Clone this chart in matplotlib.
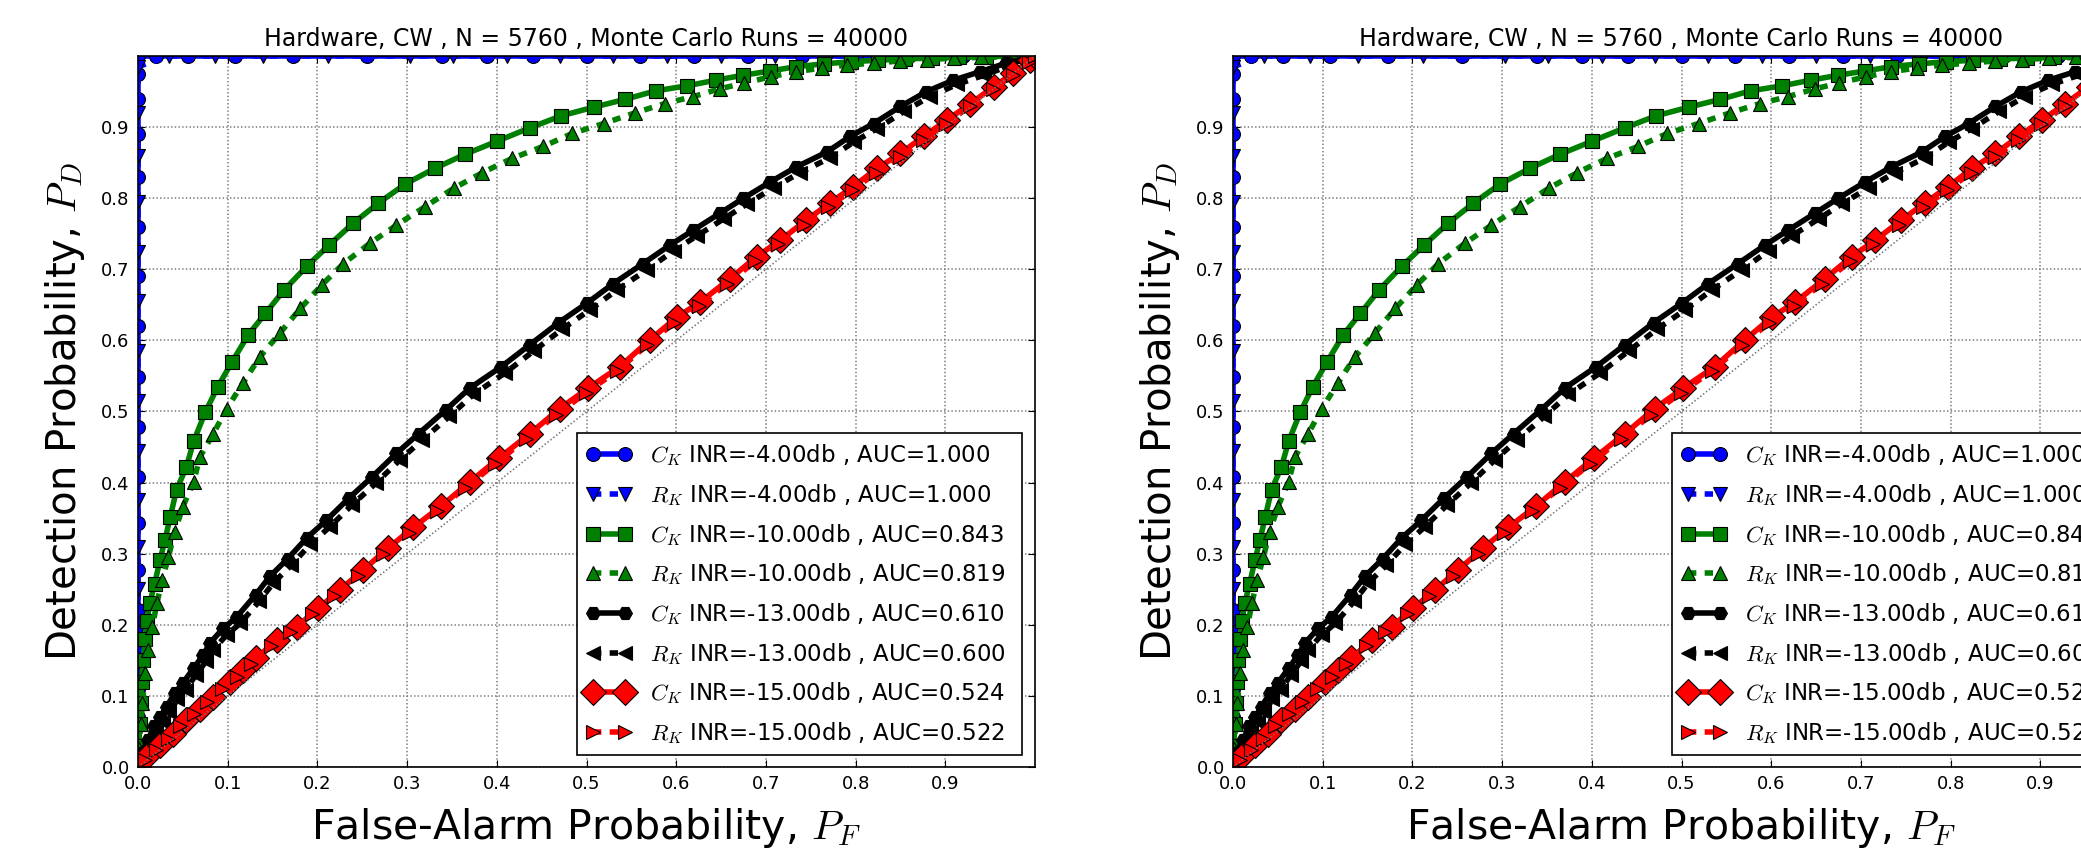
import matplotlib
matplotlib.use("Agg")
import matplotlib.pyplot as plt

plt.rcParams['mathtext.fontset'] = 'cm'
plt.rcParams['font.family'] = ['DejaVu Sans']
plt.rcParams['lines.scale_dashes'] = False

# ---------------- data ----------------
title_text = "Hardware, CW , N = 5760 , Monte Carlo Runs = 40000"
xlabel_text = r"False-Alarm Probability, $P_F$"
ylabel_text = r"Detection Probability, $P_D$"
tick_values = [0.0, 0.1, 0.2, 0.3, 0.4, 0.5, 0.6, 0.7, 0.8, 0.9]

labels = [r"$C_K$ INR=-4.00db , AUC=1.000",
          r"$R_K$ INR=-4.00db , AUC=1.000",
          r"$C_K$ INR=-10.00db , AUC=0.843",
          r"$R_K$ INR=-10.00db , AUC=0.819",
          r"$C_K$ INR=-13.00db , AUC=0.610",
          r"$R_K$ INR=-13.00db , AUC=0.600",
          r"$C_K$ INR=-15.00db , AUC=0.524",
          r"$R_K$ INR=-15.00db , AUC=0.522"]

ck4_pf = [0, 0, 0, 0, 0, 0, 0, 0, 0, 0, 0, 0, 0, 0, 0, 0, 0, 0, 0,
          0.02, 0.056, 0.108, 0.173, 0.255, 0.339, 0.389, 0.44, 0.50, 0.56,
          0.62, 0.68, 0.74, 0.80, 0.86, 0.92, 0.97, 1.0]
ck4_pd = [0.0, 0.03, 0.07, 0.11, 0.16, 0.221, 0.277, 0.343, 0.408, 0.478,
          0.548, 0.62, 0.69, 0.76, 0.83, 0.89, 0.94, 0.975, 1.0,
          1.0, 1.0, 1.0, 1.0, 1.0, 1.0, 1.0, 1.0, 1.0, 1.0,
          1.0, 1.0, 1.0, 1.0, 1.0, 1.0, 1.0, 1.0]

rk4_pf = [0, 0, 0, 0, 0, 0, 0, 0, 0, 0, 0, 0, 0, 0, 0, 0, 0, 0,
          0.035, 0.086, 0.139, 0.212, 0.303, 0.351, 0.411, 0.47, 0.53, 0.59,
          0.65, 0.71, 0.77, 0.83, 0.89, 0.95, 1.0]
rk4_pd = [0.0, 0.02, 0.05, 0.09, 0.13, 0.19, 0.25, 0.31, 0.375, 0.445,
          0.515, 0.585, 0.655, 0.725, 0.795, 0.86, 0.92, 0.985,
          1.0, 1.0, 1.0, 1.0, 1.0, 1.0, 1.0, 1.0, 1.0, 1.0,
          1.0, 1.0, 1.0, 1.0, 1.0, 1.0, 1.0]

ck10_pf = [0.000, 0.001, 0.002, 0.003, 0.004, 0.006, 0.008, 0.010, 0.013,
           0.0186, 0.0245, 0.030, 0.036, 0.043, 0.054, 0.062, 0.075, 0.089,
           0.105, 0.123, 0.142, 0.163, 0.188, 0.213, 0.240, 0.268, 0.298,
           0.331, 0.365, 0.400, 0.437, 0.472, 0.508, 0.543, 0.577, 0.612,
           0.644, 0.675, 0.705, 0.734, 0.765, 0.795, 0.825, 0.855, 0.885,
           0.915, 0.945, 0.975, 1.000]
ck10_pd = [0.000, 0.030, 0.060, 0.090, 0.120, 0.150, 0.180, 0.205, 0.230,
           0.258, 0.291, 0.319, 0.352, 0.390, 0.422, 0.458, 0.499, 0.535,
           0.570, 0.608, 0.638, 0.671, 0.704, 0.734, 0.765, 0.793, 0.820,
           0.842, 0.862, 0.880, 0.899, 0.916, 0.928, 0.939, 0.951, 0.958,
           0.966, 0.973, 0.979, 0.985, 0.989, 0.992, 0.994, 0.996, 0.997,
           0.998, 0.999, 1.000, 1.000]

rk10_pf = [0.000, 0.001, 0.003, 0.005, 0.008, 0.011, 0.016, 0.021, 0.027,
           0.034, 0.041, 0.050, 0.062, 0.069, 0.084, 0.099, 0.117, 0.136,
           0.158, 0.181, 0.205, 0.229, 0.259, 0.288, 0.320, 0.352, 0.384,
           0.417, 0.452, 0.484, 0.519, 0.554, 0.587, 0.619, 0.649, 0.676,
           0.706, 0.734, 0.762, 0.790, 0.820, 0.850, 0.880, 0.910, 0.940,
           0.970, 1.000]
rk10_pd = [0.000, 0.025, 0.060, 0.090, 0.132, 0.165, 0.197, 0.230, 0.263,
           0.296, 0.331, 0.366, 0.401, 0.436, 0.469, 0.504, 0.540, 0.577,
           0.610, 0.645, 0.678, 0.708, 0.737, 0.762, 0.788, 0.814, 0.836,
           0.856, 0.873, 0.891, 0.905, 0.920, 0.933, 0.943, 0.954, 0.962,
           0.971, 0.978, 0.983, 0.987, 0.990, 0.993, 0.995, 0.997, 0.998,
           0.999, 1.000]

ck13_pf = [0.000, 0.004, 0.011, 0.018, 0.025, 0.032, 0.041, 0.050, 0.062,
           0.073, 0.080, 0.095, 0.110, 0.131, 0.147, 0.167, 0.188, 0.210,
           0.235, 0.261, 0.288, 0.313, 0.343, 0.370, 0.405, 0.437, 0.469,
           0.500, 0.530, 0.563, 0.593, 0.619, 0.649, 0.675, 0.705, 0.734,
           0.768, 0.794, 0.820, 0.850, 0.879, 0.909, 0.939, 0.968, 1.000]
ck13_pd = [0.000, 0.020, 0.038, 0.057, 0.071, 0.085, 0.104, 0.118, 0.139,
           0.158, 0.174, 0.195, 0.211, 0.242, 0.268, 0.293, 0.322, 0.347,
           0.378, 0.408, 0.441, 0.469, 0.502, 0.533, 0.563, 0.594, 0.625,
           0.652, 0.680, 0.708, 0.734, 0.755, 0.779, 0.800, 0.823, 0.844,
           0.865, 0.887, 0.905, 0.929, 0.950, 0.966, 0.978, 0.990, 1.000]

rk13_pf = [0.000, 0.006, 0.013, 0.020, 0.028, 0.035, 0.044, 0.053, 0.065,
           0.076, 0.084, 0.099, 0.114, 0.135, 0.151, 0.171, 0.192, 0.214,
           0.239, 0.265, 0.292, 0.317, 0.347, 0.374, 0.409, 0.441, 0.473,
           0.504, 0.534, 0.567, 0.597, 0.623, 0.653, 0.679, 0.709, 0.738,
           0.772, 0.798, 0.824, 0.854, 0.883, 0.913, 0.943, 0.971, 1.000]
rk13_pd = [0.000, 0.014, 0.031, 0.049, 0.063, 0.077, 0.095, 0.109, 0.130,
           0.149, 0.165, 0.186, 0.202, 0.233, 0.259, 0.284, 0.313, 0.338,
           0.369, 0.399, 0.432, 0.460, 0.493, 0.524, 0.554, 0.585, 0.616,
           0.643, 0.671, 0.699, 0.726, 0.747, 0.771, 0.792, 0.815, 0.836,
           0.857, 0.879, 0.898, 0.922, 0.943, 0.960, 0.973, 0.986, 1.000]

ck15_pf = [0.000, 0.010, 0.025, 0.039, 0.054, 0.069, 0.084, 0.103, 0.117,
           0.132, 0.155, 0.177, 0.201, 0.225, 0.251, 0.279, 0.307, 0.338,
           0.370, 0.402, 0.437, 0.470, 0.502, 0.537, 0.571, 0.601, 0.627,
           0.660, 0.690, 0.716, 0.745, 0.771, 0.797, 0.824, 0.850, 0.876,
           0.902, 0.928, 0.954, 0.976, 0.994, 1.000]
ck15_pd = [0.000, 0.015, 0.031, 0.047, 0.066, 0.082, 0.099, 0.120, 0.136,
           0.153, 0.179, 0.197, 0.223, 0.249, 0.277, 0.308, 0.337, 0.367,
           0.401, 0.434, 0.469, 0.504, 0.533, 0.563, 0.601, 0.633, 0.654,
           0.687, 0.718, 0.741, 0.769, 0.793, 0.816, 0.842, 0.863, 0.887,
           0.910, 0.933, 0.957, 0.976, 0.994, 1.000]

rk15_pf = [0.000, 0.008, 0.020, 0.033, 0.047, 0.062, 0.077, 0.094, 0.110,
           0.126, 0.148, 0.170, 0.194, 0.219, 0.245, 0.273, 0.302, 0.333,
           0.365, 0.398, 0.432, 0.466, 0.499, 0.534, 0.567, 0.598, 0.625,
           0.657, 0.688, 0.714, 0.743, 0.769, 0.796, 0.823, 0.849, 0.875,
           0.901, 0.927, 0.953, 0.975, 0.993, 1.000]
rk15_pd = [0.000, 0.010, 0.024, 0.040, 0.057, 0.074, 0.091, 0.110, 0.127,
           0.145, 0.170, 0.190, 0.215, 0.241, 0.269, 0.299, 0.329, 0.360,
           0.393, 0.426, 0.461, 0.495, 0.526, 0.557, 0.593, 0.625, 0.648,
           0.680, 0.711, 0.735, 0.763, 0.787, 0.811, 0.836, 0.858, 0.882,
           0.905, 0.929, 0.953, 0.973, 0.992, 1.000]

chance = [0.0, 1.0]

series = [
    (ck4_pf, ck4_pd, 'b', '-', 'o'),
    (rk4_pf, rk4_pd, 'b', '--', 'v'),
    (ck10_pf, ck10_pd, 'g', '-', 's'),
    (rk10_pf, rk10_pd, 'g', '--', '^'),
    (ck13_pf, ck13_pd, 'k', '-', 'H'),
    (rk13_pf, rk13_pd, 'k', '--', '<'),
    (ck15_pf, ck15_pd, 'r', '-', 'D'),
    (rk15_pf, rk15_pd, 'r', '--', '>'),
]
colors = {'b': '#0000ff', 'g': '#008000', 'k': '#000000', 'r': '#ff0000'}

W, H = 2081, 855
fig = plt.figure(figsize=(W / 100, H / 100), dpi=100)

ax_w = 897 / W
ax_h = 711 / H
ax_b = (H - 767) / H
lefts = [138 / W, 1233 / W]

for left in lefts:
    ax = fig.add_axes([left, ax_b, ax_w, ax_h])
    for (xs, ys, c, ls, m), lab in zip(series, labels):
        kw = dict(color=colors[c], marker=m,
                  markeredgecolor='k', markeredgewidth=0.8, linewidth=4,
                  label=lab)
        if ls == '--':
            kw['dashes'] = (6, 6)
        else:
            kw['linestyle'] = '-'
        kw['markersize'] = 13 if m == 'D' else 10
        ax.plot(xs, ys, **kw)
    ax.plot(chance, chance, linestyle=':', color='0.45', linewidth=1.2)
    ax.set_xlim(0, 1)
    ax.set_ylim(0, 1)
    ax.set_xticks(tick_values)
    ax.set_yticks(tick_values)
    ax.set_xticklabels([f"{v:.1f}" for v in tick_values])
    ax.set_yticklabels([f"{v:.1f}" for v in tick_values])
    ax.tick_params(direction='in', top=True, right=True, length=5,
                   labelsize=13, pad=6)
    ax.grid(True, linestyle=':', color='0.5', linewidth=1.2)
    for sp in ax.spines.values():
        sp.set_linewidth(1.2)
    ax.set_title(title_text, fontsize=17, pad=7)
    ax.set_xlabel(xlabel_text, fontsize=29.5, labelpad=9)
    ax.set_ylabel(ylabel_text, fontsize=29, labelpad=10)
    leg = ax.legend(loc='lower left', bbox_to_anchor=(0.4894, 0.0169, 0.496, 0.45),
                    mode='expand', borderaxespad=0, fontsize=16.5, numpoints=2,
                    handlelength=2.0, handletextpad=0.8, labelspacing=0.6,
                    borderpad=0.4, fancybox=False, framealpha=1, edgecolor='k')
    leg.get_frame().set_linewidth(1.2)

fig.savefig('out.png', dpi=100)
